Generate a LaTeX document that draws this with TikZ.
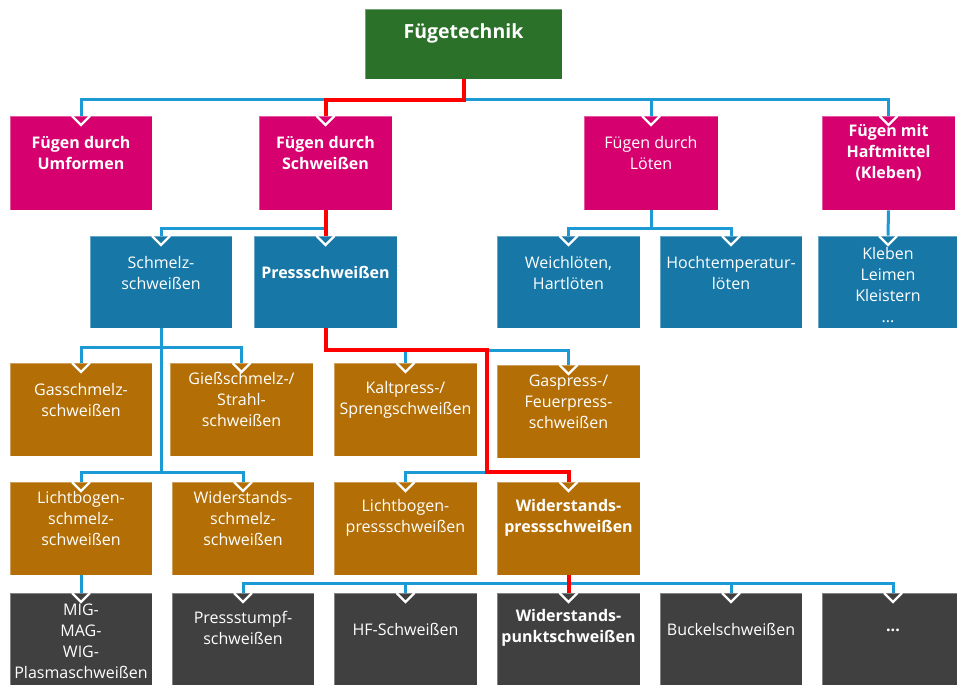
\documentclass[tikz,border=0pt]{standalone}
\usepackage{fontspec}
\setmainfont{Open Sans}
\usetikzlibrary{calc}

\definecolor{rootgreen}{HTML}{2B712A}
\definecolor{magbox}{HTML}{D6006F}
\definecolor{bluebox}{HTML}{1777A6}
\definecolor{orabox}{HTML}{B36F05}
\definecolor{graybox}{HTML}{404040}
\definecolor{linkblue}{HTML}{1C9AD6}
\definecolor{linkred}{HTML}{FF0000}

\tikzset{
  box/.style={rectangle, inner sep=0pt, fill=#1, draw=white, draw opacity=0.35,
    line width=0.8bp, minimum width=142bp, minimum height=93bp},
  intip/.style={path picture={
    \draw[white, draw opacity=1, line width=2.4bp, line join=miter]
      ([xshift=-9bp]path picture bounding box.north) --
      ([yshift=-9bp]path picture bounding box.north) --
      ([xshift=9bp]path picture bounding box.north);}},
  txt/.style={text=white, align=center, inner sep=0pt,
    font=\fontsize{16bp}{21bp}\selectfont},
  btxt/.style={txt, font=\fontsize{16bp}{21bp}\selectfont\bfseries},
  bl/.style={draw=linkblue, line width=3bp},
  rd/.style={draw=linkred, line width=4bp},
}

\begin{document}
\begin{tikzpicture}[x=1bp, y=-1bp]
\useasboundingbox (0,0) rectangle (957,687);

% ---- boxes ----
\node[box=rootgreen, minimum width=197bp, minimum height=70bp] (root) at (463.5,44) {};

\node[box=magbox, intip, minimum height=94bp] (umf) at (81,163) {};
\node[box=magbox, intip, minimum height=94bp, minimum width=133bp] (schw) at (325.5,163) {};
\node[box=magbox, intip, minimum height=94bp, minimum width=134bp] (loet) at (651,163) {};
\node[box=magbox, intip, minimum height=94bp, minimum width=133bp] (haft) at (888.5,163) {};

\node[box=bluebox, intip, minimum height=92bp] (schmelz) at (161,282) {};
\node[box=bluebox, intip, minimum height=92bp, minimum width=143bp] (press) at (325.5,282) {};
\node[box=bluebox, intip, minimum height=92bp, minimum width=143bp] (weich) at (568.5,282) {};
\node[box=bluebox, intip, minimum height=92bp] (hoch) at (731,282) {};
\node[box=bluebox, intip, minimum height=92bp, minimum width=140bp] (kleb) at (888,282) {};

\node[box=orabox, intip] (gas) at (81,409.5) {};
\node[box=orabox, intip, minimum width=143bp] (giess) at (241.5,409.5) {};
\node[box=orabox, intip, minimum width=143bp] (kalt) at (405.5,409.5) {};
\node[box=orabox, intip, minimum width=143bp] (gasp) at (568.5,411.5) {};

\node[box=orabox, intip] (lbs) at (81,528.5) {};
\node[box=orabox, intip] (wids) at (243,528.5) {};
\node[box=orabox, intip, minimum width=143bp] (lbp) at (405.5,528.5) {};
\node[box=orabox, intip, minimum width=143bp] (widp) at (568.5,528.5) {};

\node[box=graybox, intip, minimum height=92bp] (mig) at (81,639) {};
\node[box=graybox, intip, minimum height=92bp] (pst) at (243,639) {};
\node[box=graybox, intip, minimum height=92bp, minimum width=143bp] (hf) at (405.5,639) {};
\node[box=graybox, intip, minimum height=92bp, minimum width=143bp] (wpk) at (568.5,639) {};
\node[box=graybox, intip, minimum height=92bp] (buck) at (731,639) {};
\node[box=graybox, intip, minimum height=92bp] (dots) at (893,639) {};

% ---- box texts ----
\node[btxt, font=\fontsize{19.5bp}{22bp}\selectfont\bfseries] (root-t) at ($(root)+(0,-11)$) {Fügetechnik};

\node[btxt] (umf-t) at ($(umf)+(0,-10)$) {Fügen durch\\Umformen};
\node[btxt] (schw-t) at ($(schw)+(0,-10)$) {Fügen durch\\Schweißen};
\node[txt] (loet-t) at ($(loet)+(0,-10)$) {Fügen durch\\Löten};
\node[btxt] (haft-t) at ($(haft)+(0,-10)$) {Fügen mit\\Haftmittel\\(Kleben)};

\node[txt] (schmelz-t) at ($(schmelz)+(0,-9)$) {Schmelz-\\schweißen};
\node[btxt] (press-t) at ($(press)+(0,-10)$) {Pressschweißen};
\node[txt] (weich-t) at ($(weich)+(0,-9)$) {Weichlöten,\\Hartlöten};
\node[txt] (hoch-t) at ($(hoch)+(0,-9)$) {Hochtemperatur-\\löten};
\node[txt] (kleb-t) at ($(kleb)+(0,3)$) {Kleben\\Leimen\\Kleistern\\...};

\node[txt] (gas-t) at ($(gas)+(0,-9.5)$) {Gasschmelz-\\schweißen};
\node[txt] (giess-t) at ($(giess)+(0,-10.5)$) {Gießschmelz-/\\Strahl-\\schweißen};
\node[txt] (kalt-t) at ($(kalt)+(0,-9.5)$) {Kaltpress-/\\Sprengschweißen};
\node[txt] (gasp-t) at ($(gasp)+(0,-9.5)$) {Gaspress-/\\Feuerpress-\\schweißen};

\node[txt] (lbs-t) at ($(lbs)+(0,-10.5)$) {Lichtbogen-\\schmelz-\\schweißen};
\node[txt] (wids-t) at ($(wids)+(0,-10.5)$) {Widerstands-\\schmelz-\\schweißen};
\node[txt] (lbp-t) at ($(lbp)+(0,-10.5)$) {Lichtbogen-\\pressschweißen};
\node[btxt] (widp-t) at ($(widp)+(0,-11)$) {Widerstands-\\pressschweißen};

\node[txt] (mig-t) at ($(mig)+(0,2)$) {MIG-\\MAG-\\WIG-\\Plasmaschweißen};
\node[txt] (pst-t) at ($(pst)+(0,-11)$) {Pressstumpf-\\schweißen};
\node[txt] (hf-t) at ($(hf)+(0,-10)$) {HF-Schweißen};
\node[btxt] (wpk-t) at ($(wpk)+(0,-11)$) {Widerstands-\\punktschweißen};
\node[txt] (buck-t) at ($(buck)+(0,-10)$) {Buckelschweißen};
\node[btxt] (dots-t) at ($(dots)+(0,-9)$) {...};

% ---- bus levels and trunk ----
\coordinate (busA) at (0,100);
\coordinate (busB) at (0,228);
\coordinate (busC) at (0,347);
\coordinate (busD) at (0,350);
\coordinate (busE) at (0,472);
\coordinate (busF) at (0,583);
\coordinate (trunk) at (487,0);

% ---- blue connectors ----
\draw[bl] (umf.north) |- (haft.north |- busA) -- (haft.north);
\draw[bl] (loet.north) -- (loet.north |- busA);

\draw[bl] (schmelz.north) |- (press.north |- busB);
\draw[bl] (weich.north) |- (hoch.north |- busB) -- (hoch.north);
\draw[bl] (loet.south) -- (loet.south |- busB);
\draw[bl] (haft.south) -- (kleb.north);

\draw[bl] (schmelz.south) -- (schmelz.south |- busE);
\draw[bl] (gas.north) |- (giess.north |- busC) -- (giess.north);
\draw[bl] (lbs.north) |- (wids.north |- busE) -- (wids.north);

\draw[bl] (kalt.north) |- (gasp.north |- busD) -- (gasp.north);
\draw[bl] (lbp.north) |- (trunk |- busE);

\draw[bl] (lbs.south) -- (mig.north);
\draw[bl] (pst.north) |- (dots.north |- busF) -- (dots.north);
\draw[bl] (hf.north) -- (hf.north |- busF);
\draw[bl] (buck.north) -- (buck.north |- busF);

% ---- highlighted path ----
\draw[rd] (root.south) |- (schw.north |- busA) -- (schw.north);
\draw[rd] (schw.south) -- (press.north);
\draw[rd] (press.south) |- (trunk |- busD) |- (widp.north |- busE) -- (widp.north);
\draw[rd] (widp.south) -- (wpk.north);
\end{tikzpicture}
\end{document}
